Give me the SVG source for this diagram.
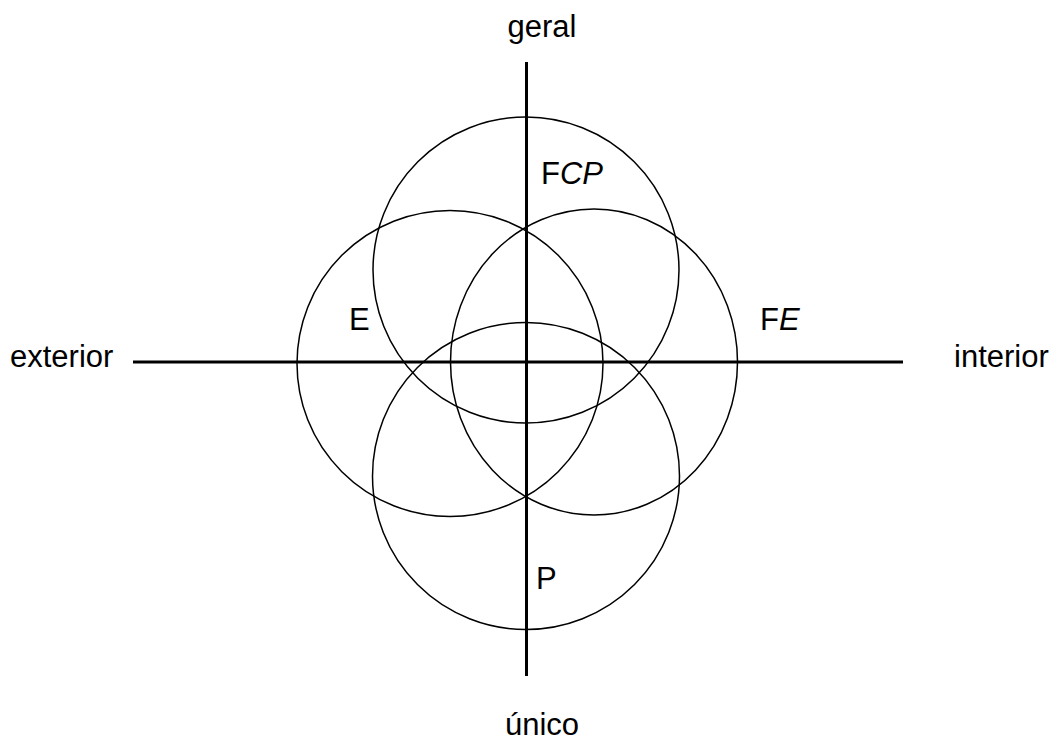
<svg xmlns="http://www.w3.org/2000/svg" width="1056" height="740" viewBox="0 0 1056 740">
<style>
.c{fill:none;stroke:#000;stroke-width:1.5}
.ax{stroke:#000;stroke-width:3}
text{font-family:"Liberation Sans",Arial,sans-serif;font-size:31px;fill:#000}
.i{font-style:italic}
</style>
<rect width="1056" height="740" fill="#fff"/>
<g id="circles">
<circle id="top" class="c" cx="526" cy="270" r="153"/>
<circle id="left" class="c" cx="450" cy="363.5" r="153"/>
<ellipse id="right" class="c" cx="594" cy="362" rx="143.5" ry="153"/>
<circle id="bottom" class="c" cx="526" cy="476" r="153.5"/>
</g>
<g id="connectors">
<line class="ax" x1="526.5" y1="62" x2="526.5" y2="676"/>
<line class="ax" x1="133" y1="362" x2="903" y2="362"/>
</g>
<g id="labels">
<text x="542" y="37" text-anchor="middle">geral</text>
<text x="542" y="735" text-anchor="middle">único</text>
<text x="10" y="367">exterior</text>
<text x="954" y="367">interior</text>
<text x="541" y="184">F<tspan class="i">CP</tspan></text>
<text x="349" y="330">E</text>
<text x="760" y="330">F<tspan class="i">E</tspan></text>
<text x="536" y="589">P</text>
</g>
</svg>
